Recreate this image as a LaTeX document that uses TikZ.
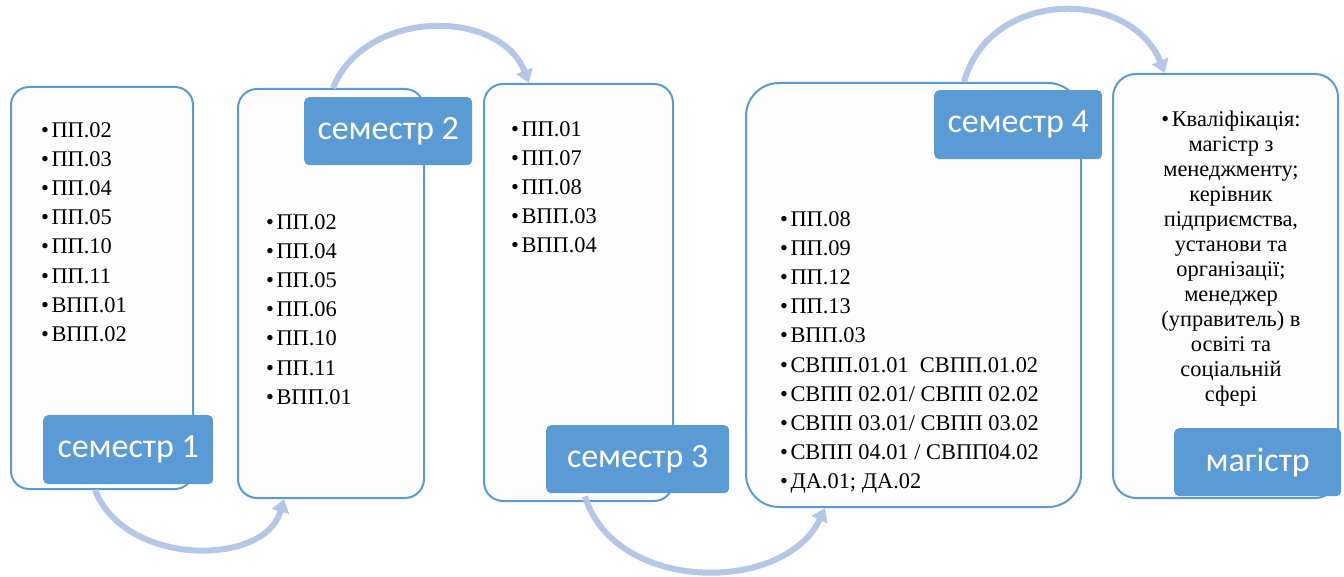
\documentclass[tikz,border=0pt]{standalone}
\usepackage{fontspec}
\setmainfont{Liberation Serif}
\newfontfamily\labfont{Carlito}
\usetikzlibrary{arrows.meta}
\definecolor{bblue}{RGB}{91,155,213}
\definecolor{abl}{RGB}{180,199,231}
\definecolor{bfill}{RGB}{253,253,253}
\newcommand{\bl}{\textbullet\hspace{2.5pt}}
\begin{document}
\begin{tikzpicture}[x=1pt,y=-1pt,
  box/.style={draw=bblue, line width=2pt, fill=bfill, anchor=north west, inner sep=0pt},
  lab/.style={fill=bblue, rounded corners=5pt, anchor=north west, inner sep=0pt, text=white,
    font=\labfont\fontsize{34}{40}\selectfont},
  list/.style={anchor=north west, inner sep=0pt, align=left, font=\fontsize{22.4}{29.1}\selectfont},
  flow/.style={draw=abl, line width=6pt, -{Triangle[length=13pt,width=17pt]}}
]
\useasboundingbox (0,0) rectangle (1344,577);

% boxes
\node[box, rounded corners=18pt, minimum width=182pt, minimum height=402pt] (b1) at (10,86) {};
\node[box, rounded corners=19pt, minimum width=186pt, minimum height=409pt] (b2) at (237,88) {};
\node[box, rounded corners=19pt, minimum width=189pt, minimum height=417pt] (b3) at (483,83) {};
\node[box, rounded corners=33pt, minimum width=335pt, minimum height=424pt] (b4) at (745,82) {};
\node[box, rounded corners=23pt, minimum width=225pt, minimum height=424pt] (b5) at (1112,73) {};

% labels
\node[lab, minimum width=170pt, minimum height=69pt] (l1) at (43,415) {семестр 1};
\node[lab, minimum width=168pt, minimum height=68pt] (l2) at (304,97) {семестр 2};
\node[lab, minimum width=183pt, minimum height=68pt] (l3) at (546,425) {семестр 3};
\node[lab, minimum width=168pt, minimum height=69pt] (l4) at (934,90) {семестр 4};
\node[lab, minimum width=167pt, minimum height=68pt] (l5) at (1174,428) {магістр};

% lists
\node[list] (t1) at (41,122.5) {\bl ПП.02\\ \bl ПП.03\\ \bl ПП.04\\ \bl ПП.05\\ \bl ПП.10\\ \bl ПП.11\\ \bl ВПП.01\\ \bl ВПП.02};
\node[list] (t2) at (266,214.5) {\bl ПП.02\\ \bl ПП.04\\ \bl ПП.05\\ \bl ПП.06\\ \bl ПП.10\\ \bl ПП.11\\ \bl ВПП.01};
\node[list] (t3) at (511,121.5) {\bl ПП.01\\ \bl ПП.07\\ \bl ПП.08\\ \bl ВПП.03\\ \bl ВПП.04};
\node[list] (t4) at (780,211.5) {\bl ПП.08\\ \bl ПП.09\\ \bl ПП.12\\ \bl ПП.13\\ \bl ВПП.03\\ \bl СВПП.01.01\ \ СВПП.01.02\\ \bl СВПП 02.01/ СВПП 02.02\\ \bl СВПП 03.01/ СВПП 03.02\\ \bl СВПП 04.01 / СВПП04.02\\ \bl ДА.01; ДА.02};
\node[anchor=north, inner sep=0pt, align=center, font=\fontsize{22.4}{25}\selectfont] (t5) at (1231,110.5)
  {\bl Кваліфікація:\\ магістр з\\ менеджменту;\\ керівник\\ підприємства,\\ установи та\\ організації;\\ менеджер\\ (управитель) в\\ освіті та\\ соціальній\\ сфері};

% connectors
\draw[flow] ([xshift=85pt]b1.south west) .. controls (125,567) and (265,567) .. ([xshift=47pt]b2.south west);
\draw[flow] ([xshift=96pt]b2.north west) .. controls (365,8) and (500,8) .. ([xshift=46pt]b3.north west);
\draw[flow] ([xshift=39pt,yshift=-3pt]l3.south west) .. controls (615,594) and (785,594) .. ([xshift=80pt]b4.south west);
\draw[flow] ([xshift=219pt]b4.north west) .. controls (990,-12) and (1130,-12) .. ([xshift=53pt]b5.north west);
\end{tikzpicture}
\end{document}
